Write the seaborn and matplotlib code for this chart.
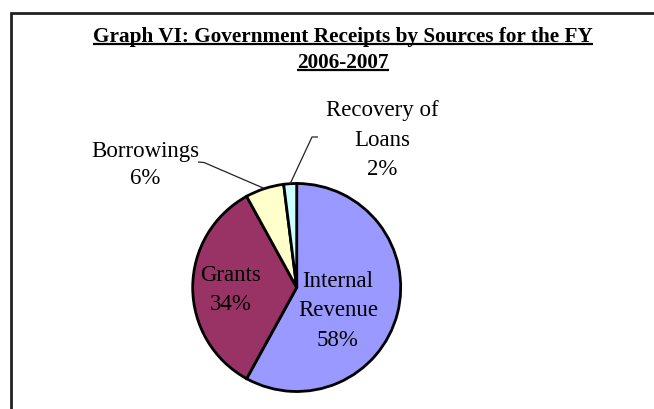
import numpy as np
import matplotlib
matplotlib.use("Agg")
import matplotlib.pyplot as plt
import seaborn as sns
from matplotlib.patches import Rectangle

# ---- data ----
categories = ["Internal\nRevenue", "Grants", "Borrowings", "Recovery of\nLoans"]
shares = [58, 34, 6, 2]
colors = ["#9999FF", "#993366", "#FFFFCC", "#CCFFFF"]
title_lines = ["Graph VI: Government Receipts by Sources for the FY", "2006-2007"]

sns.set_theme(style="white")
plt.rcParams["font.family"] = ["Liberation Serif", "DejaVu Serif"]

W, H = 654, 410
fig = plt.figure(figsize=(W / 100, H / 100), dpi=100)
fig.patch.set_facecolor("white")
ax = fig.add_axes([0, 0, 1, 1])
ax.set_xlim(0, W)
ax.set_ylim(0, H)
ax.set_aspect("equal")
ax.axis("off")

def py(y):  # pixel-from-top to data y
    return H - y

center = (296.7, py(288.5))
radius = 104

wedges, _ = ax.pie(shares, colors=sns.color_palette(colors), startangle=90,
                   counterclock=False, center=center, radius=radius,
                   wedgeprops=dict(edgecolor="black", linewidth=2.0))
ax.set_xlim(0, W)
ax.set_ylim(0, H)

def pct(v):
    return f"{v / sum(shares) * 100:.0f}%"

fs = 16.5
ls = 1.55
# inside labels
inside_pos = {0: (338, 311), 1: (231, 290)}
for i, (x, y) in inside_pos.items():
    ax.text(x, py(y), f"{categories[i]}\n{pct(shares[i])}", ha="center", va="center",
            fontsize=fs, linespacing=ls, color="black")

# outside labels with leader lines
outside = {2: dict(text=(145, 165), pts=[(198, 163), (204, 163.5)], ls=1.4),
           3: dict(text=(382, 140), pts=[(318, 138), (312, 138)], ls=ls)}
for i, d in outside.items():
    w = wedges[i]
    mid = np.deg2rad((w.theta1 + w.theta2) / 2)
    edge = (center[0] + radius * np.cos(mid), center[1] + radius * np.sin(mid))
    xs = [p[0] for p in d["pts"]] + [edge[0]]
    ys = [py(p[1]) for p in d["pts"]] + [edge[1]]
    ax.plot(xs, ys, color="#222222", linewidth=0.9, solid_capstyle="butt")
    ax.text(d["text"][0], py(d["text"][1]), f"{categories[i]}\n{pct(shares[i])}",
            ha="center", va="center", fontsize=fs, linespacing=d["ls"], color="black")

# title with underline
fig.canvas.draw()
renderer = fig.canvas.get_renderer()
for line, base in zip(title_lines, [42, 68]):
    t = ax.text(343, py(base), line, ha="center", va="baseline", fontsize=15.3,
                fontweight="bold", color="black")
    bb = t.get_window_extent(renderer)
    ax.plot([bb.x0, bb.x1], [py(base + 2.5)] * 2, color="black", linewidth=1.6,
            solid_capstyle="butt")

# frame
fig.patches.append(Rectangle((11 / W, -0.05), 1.2, (H - 13.5) / H + 0.05,
                             transform=fig.transFigure, fill=False,
                             edgecolor="#222222", linewidth=2.0, figure=fig))

fig.savefig("out.png", dpi=100, facecolor="white")
